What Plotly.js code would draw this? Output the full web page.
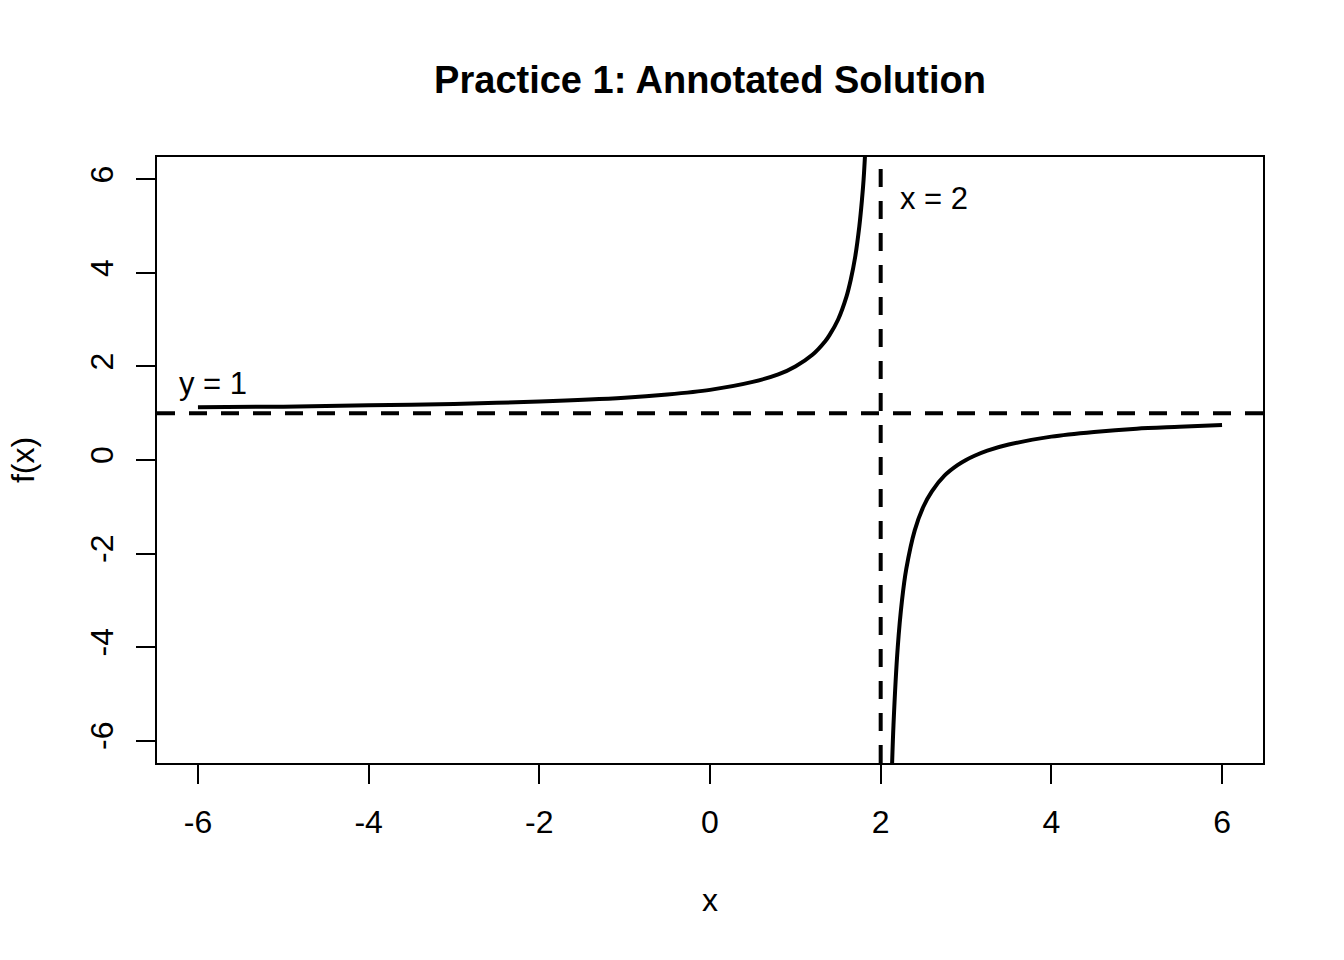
<!DOCTYPE html>
<html>
<head>
<meta charset="utf-8">
<script src="https://cdn.plot.ly/plotly-3.0.1.min.js"></script>
<style>
  html, body { margin: 0; padding: 0; background: #fff; }
  #chart { width: 1344px; height: 960px; }
</style>
</head>
<body>
<div id="chart"></div>
<script>
// values
var leftX = [-6, -5, -4, -3, -2, -1, -0.5, 0, 0.5, 0.8, 1, 1.2, 1.35, 1.4, 1.5, 1.6, 1.65, 1.7, 1.75, 1.78, 1.8, 1.85];
var leftY = [1.13, 1.14, 1.17, 1.2, 1.25, 1.33, 1.4, 1.5, 1.67, 1.83, 2.0, 2.25, 2.54, 2.67, 3.0, 3.5, 3.86, 4.33, 5.0, 5.55, 6.0, 7.67];

var rightX = [2.12, 2.15, 2.2, 2.25, 2.3, 2.4, 2.5, 2.6, 2.75, 2.9, 3, 3.1, 3.25, 3.5, 4, 4.5, 5, 5.5, 6];
var rightY = [-7.33, -5.67, -4.0, -3.0, -2.33, -1.5, -1.0, -0.67, -0.33, -0.11, 0, 0.09, 0.2, 0.33, 0.5, 0.6, 0.67, 0.71, 0.75];

var asymptoteY = 1;
var asymptoteX = 2;

var tickVals = [-6, -4, -2, 0, 2, 4, 6];
var tickText = ['-6', '-4', '-2', '0', '2', '4', '6'];

var fontFamily = 'Liberation Sans, Arial, sans-serif';

var trace1 = {
    x: leftX,
    y: leftY,
    type: 'scatter',
    mode: 'lines',
    line: { color: 'black', width: 4, shape: 'spline', smoothing: 0.8 },
    showlegend: false,
    hoverinfo: 'skip'
};

var trace2 = {
    x: rightX,
    y: rightY,
    type: 'scatter',
    mode: 'lines',
    line: { color: 'black', width: 4, shape: 'spline', smoothing: 0.8 },
    showlegend: false,
    hoverinfo: 'skip'
};

var axisCommon = {
    showgrid: false,
    zeroline: false,
    showline: true,
    mirror: true,
    linecolor: 'black',
    linewidth: 2,
    ticks: 'outside',
    ticklen: 19,
    tickwidth: 2,
    tickcolor: 'black',
    tickvals: tickVals,
    ticktext: tickText,
    tickfont: { family: fontFamily, size: 32, color: 'black' },
    fixedrange: true
};

var layout = {
    width: 1344,
    height: 960,
    paper_bgcolor: 'white',
    plot_bgcolor: 'white',
    margin: { l: 157, r: 81, t: 157, b: 197 },
    title: {
        text: '<b>Practice 1: Annotated Solution</b>',
        font: { family: fontFamily, size: 38, color: 'black' },
        x: 0.5,
        xref: 'paper',
        xanchor: 'center',
        y: 1 - 80 / 960,
        yref: 'container',
        yanchor: 'middle'
    },
    xaxis: Object.assign({}, axisCommon, {
        range: [-6.48, 6.48],
        ticklabelstandoff: 11,
        title: { text: 'x', font: { family: fontFamily, size: 32, color: 'black' }, standoff: 49 }
    }),
    yaxis: Object.assign({}, axisCommon, {
        range: [-6.48, 6.48],
        tickangle: -90,
        ticklabelstandoff: 10,
        title: { text: 'f(x)', font: { family: fontFamily, size: 32, color: 'black' }, standoff: 40 }
    }),
    shapes: [
        {
            type: 'line', xref: 'paper', yref: 'y',
            x0: 0, x1: 1, y0: asymptoteY, y1: asymptoteY,
            line: { color: 'black', width: 4, dash: '18px,14px' }
        },
        {
            type: 'line', xref: 'x', yref: 'paper',
            x0: asymptoteX, x1: asymptoteX, y0: 0, y1: 0.98,
            line: { color: 'black', width: 4, dash: '18px,14px' }
        }
    ],
    annotations: [
        {
            x: -5.82, y: 1.63, xref: 'x', yref: 'y',
            text: 'y = 1', showarrow: false,
            font: { family: fontFamily, size: 31, color: 'black' }
        },
        {
            x: 2.62, y: 5.6, xref: 'x', yref: 'y',
            text: 'x = 2', showarrow: false,
            font: { family: fontFamily, size: 31, color: 'black' }
        }
    ]
};

Plotly.newPlot('chart', [trace1, trace2], layout, { displayModeBar: false, staticPlot: true });
</script>
</body>
</html>
